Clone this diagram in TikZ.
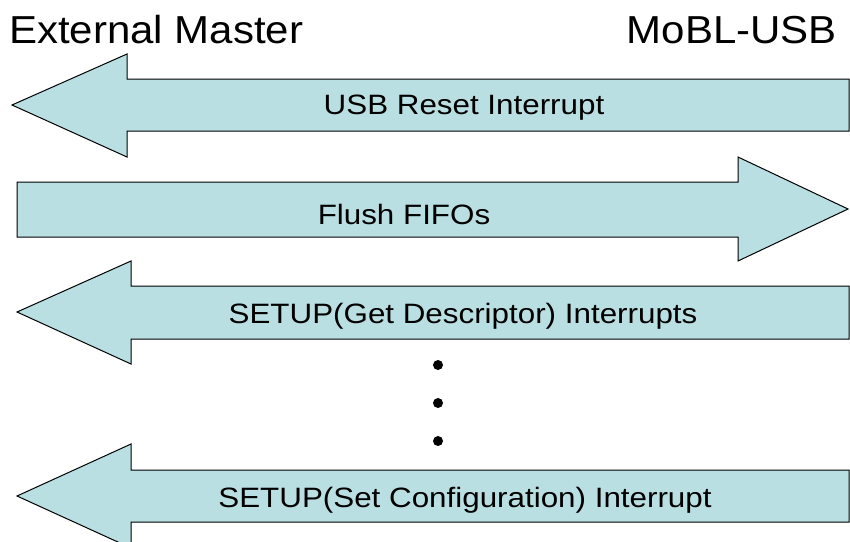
\documentclass[tikz,border=0pt]{standalone}
\usepackage{fontspec}
\setmainfont{Liberation Sans}
\newfontfamily\titlefont[FakeStretch=1.077]{Liberation Sans}
\newfontfamily\labelfont[FakeStretch=1.12]{Liberation Sans}
\definecolor{arrowfill}{RGB}{185,223,226}
\begin{document}
\begin{tikzpicture}[x=1pt,y=-1pt,
  bigarrow/.style={fill=arrowfill,draw=black,line width=1pt,line join=miter},
  arrowlabel/.style={font=\labelfont\fontsize{28}{33}\selectfont,anchor=base,inner sep=0pt},
  title/.style={font=\titlefont\fontsize{39}{46}\selectfont,anchor=base west,inner sep=0pt},
  dot/.style={circle,fill=black,inner sep=0pt,minimum size=10pt}]
\useasboundingbox (0,0) rectangle (850,541);
% arrow 1 (left)
\draw[bigarrow] (12,105) -- (127,54) -- (127,79) -- (849,79) -- (849,131) -- (127,131) -- (127,157) -- cycle;
% arrow 2 (right)
\draw[bigarrow] (848,209) -- (738,157) -- (738,182) -- (17,182) -- (17,237) -- (738,237) -- (738,261) -- cycle;
% arrow 3 (left)
\draw[bigarrow] (17,312) -- (131,261) -- (131,286) -- (849,286) -- (849,339) -- (131,339) -- (131,364) -- cycle;
% arrow 4 (left)
\draw[bigarrow] (17,496) -- (131,444) -- (131,470) -- (849,470) -- (849,522) -- (131,522) -- (131,548) -- cycle;
\node[title] (ext) at (9,43) {External Master};
\node[title,anchor=base east] (mobl) at (837,43) {MoBL-USB};
\node[arrowlabel] (l1) at (464,114) {USB Reset Interrupt};
\node[arrowlabel] (l2) at (404,224) {Flush FIFOs};
\node[arrowlabel] (l3) at (463,323) {SETUP(Get Descriptor) Interrupts};
\node[arrowlabel] (l4) at (465,507) {SETUP(Set Configuration) Interrupt};
\node[dot] (d1) at (438,365) {};
\node[dot] (d2) at (438,403) {};
\node[dot] (d3) at (438,441) {};
\end{tikzpicture}
\end{document}
